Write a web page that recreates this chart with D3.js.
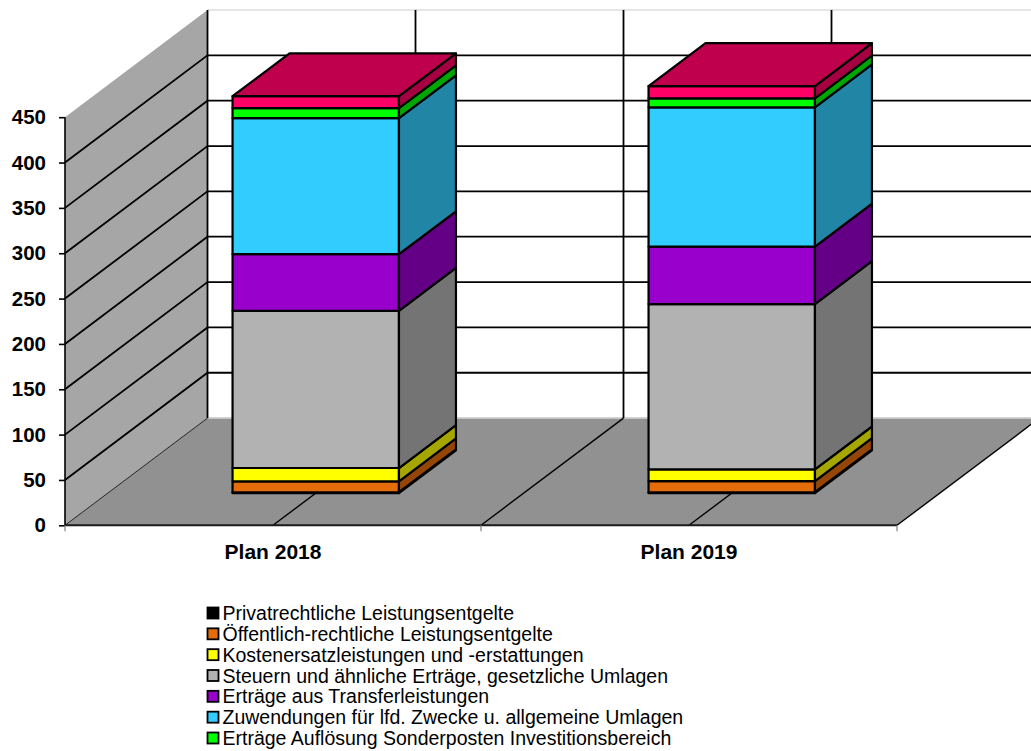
<!DOCTYPE html>
<html>
<head>
<meta charset="utf-8">
<script src="https://cdn.jsdelivr.net/npm/d3@7"></script>
<style>
  html, body { margin: 0; padding: 0; background: #fff; overflow: hidden; }
  svg { display: block; }
  text { font-family: "Liberation Sans", Arial, sans-serif; fill: #000; }
</style>
</head>
<body>
<svg id="chart" width="1031" height="751"></svg>
<script>
(function () {
  'use strict';

  var categories = ['Plan 2018', 'Plan 2019'];
  var seriesKeys = ['privat', 'oeffentlich', 'kosten', 'steuern', 'transfer', 'zuwendungen', 'sonderposten', 'sonstige'];
  var plan2018 = [1, 12, 14.7, 173.3, 62.5, 150, 11, 13.2];
  var plan2019 = [1, 12.3, 12.9, 182.3, 63.4, 153.5, 9.9, 13.6];
  var seriesColors = ['#000000', '#e46c0a', '#ffff00', '#b2b2b2', '#9900cc', '#33ccff', '#00ff00', '#ff0066'];
  // the eighth legend row is cut off by the bottom of the picture
  var legendLabels = [
    'Privatrechtliche Leistungsentgelte',
    'Öffentlich-rechtliche Leistungsentgelte',
    'Kostenersatzleistungen und -erstattungen',
    'Steuern und ähnliche Erträge, gesetzliche Umlagen',
    'Erträge aus Transferleistungen',
    'Zuwendungen für lfd. Zwecke u. allgemeine Umlagen',
    'Erträge Auflösung Sonderposten Investitionsbereich'
  ];
  var yTicks = [0, 50, 100, 150, 200, 250, 300, 350, 400, 450];

  var svg = d3.select('#chart');

  var x = d3.scaleBand().domain(categories).range([65, 897]);
  var y = d3.scaleLinear().domain([0, 450]).range([525.3, 117.2]);
  var depthX = d3.scaleLinear().domain([0, 1]).range([0, 142.5]);
  var depthY = d3.scaleLinear().domain([0, 1]).range([0, -107.2]);

  // projects a point of the front plane back into the chart depth
  function project(px, value, depth) {
    return [px + depthX(depth), y(value) + depthY(depth)];
  }

  function poly(points) {
    return 'M' + points.map(function (p) { return p.join(','); }).join('L') + 'Z';
  }

  function shade(color, k) {
    var c = d3.rgb(color);
    return d3.rgb(c.r * k, c.g * k, c.b * k).formatHex();
  }

  var left = x.range()[0];
  var right = x.range()[1];
  var step = x.step();
  var yMax = y.domain()[1];

  // wall and floor
  svg.append('path')
    .attr('d', poly([project(left, 0, 0), project(left, yMax, 0), project(left, yMax, 1), project(left, 0, 1)]))
    .attr('fill', '#a6a6a6');
  svg.append('path')
    .attr('d', poly([project(left, 0, 0), project(left, 0, 1), project(right, 0, 1), project(right, 0, 0)]))
    .attr('fill', '#919191');

  var grid = svg.append('g').attr('fill', 'none').attr('stroke', '#000').attr('stroke-width', 1.8);

  // faint upper and floor edges of the back plane
  grid.append('path')
    .attr('d', d3.line()([project(left, yMax, 1), project(right, yMax, 1)]))
    .attr('stroke', '#e6e6e6');
  grid.append('path')
    .attr('d', d3.line()([project(left, 0, 1), project(right, 0, 1)]))
    .attr('stroke', '#c4c4c4');

  // horizontal gridlines, wall and back plane
  yTicks.slice(1, -1).forEach(function (t) {
    grid.append('path').attr('d', d3.line()([project(left, t, 0), project(left, t, 1), project(right, t, 1)]));
  });

  // vertical gridlines on the back plane and their floor lines
  d3.range(left, right + 1, step / 2).forEach(function (px) {
    grid.append('path').attr('d', d3.line()([project(px, 0, 1), project(px, yMax, 1)]));
    grid.append('path')
      .attr('stroke-width', px === left ? 0.8 : 1.4)
      .attr('d', d3.line()([project(px, 0, 0), project(px, 0, 1)]));
  });

  grid.append('path').attr('d', d3.line()([project(left, 0, 0), project(right, 0, 0)])).attr('stroke-width', 2).attr('stroke', '#1a1a1a');

  // bars
  var rows = categories.map(function (c, i) {
    var row = { category: c };
    var values = i === 0 ? plan2018 : plan2019;
    seriesKeys.forEach(function (k, j) { row[k] = values[j]; });
    return row;
  });
  var stacked = d3.stack().keys(seriesKeys)(rows);

  var barWidth = x.bandwidth() / 2.5;
  var depthFront = 0.3;
  var depthBack = 0.7;
  var bars = svg.append('g').attr('stroke', '#000').attr('stroke-width', 2.2).attr('stroke-linejoin', 'round');

  categories.forEach(function (c, ci) {
    var x0 = x(c) + x.bandwidth() / 2 - barWidth / 2;
    var x1 = x0 + barWidth;
    stacked.forEach(function (layer, si) {
      var v0 = layer[ci][0];
      var v1 = layer[ci][1];
      var color = seriesColors[si];
      bars.append('path')
        .attr('fill', color)
        .attr('d', poly([project(x0, v0, depthFront), project(x1, v0, depthFront), project(x1, v1, depthFront), project(x0, v1, depthFront)]));
      bars.append('path')
        .attr('fill', shade(color, 0.65))
        .attr('d', poly([project(x1, v0, depthFront), project(x1, v0, depthBack), project(x1, v1, depthBack), project(x1, v1, depthFront)]));
      if (si === stacked.length - 1) {
        bars.append('path')
          .attr('fill', shade(color, 0.75))
          .attr('d', poly([project(x0, v1, depthFront), project(x1, v1, depthFront), project(x1, v1, depthBack), project(x0, v1, depthBack)]));
      }
    });
  });

  // axes
  var yAxis = svg.append('g')
    .attr('transform', 'translate(' + left + ',0)')
    .call(d3.axisLeft(y).tickValues(yTicks).tickSize(6).tickPadding(13).tickFormat(d3.format('d')));
  yAxis.selectAll('path, line').attr('stroke', '#000').attr('stroke-width', 1.6);
  yAxis.select('.domain').attr('d', d3.line()([[0, y(0)], [0, y(yMax)]]));
  yAxis.selectAll('text')
    .attr('font-size', 20.5)
    .attr('font-weight', 'bold')
    .attr('font-family', '"Liberation Sans", Arial, sans-serif');

  var xAxis = svg.append('g')
    .attr('transform', 'translate(0,' + y(0) + ')')
    .call(d3.axisBottom(x).tickSize(0).tickPadding(0));
  xAxis.select('.domain').remove();
  xAxis.selectAll('text')
    .attr('y', 33.5)
    .attr('dy', 0)
    .attr('font-size', 21)
    .attr('font-weight', 'bold')
    .attr('font-family', '"Liberation Sans", Arial, sans-serif');
  d3.range(left, right + 1, step).forEach(function (px) {
    xAxis.append('line')
      .attr('x1', px).attr('x2', px).attr('y1', 0).attr('y2', 6)
      .attr('stroke', '#808080').attr('stroke-width', 1.2);
  });

  // legend
  var legendY = d3.scalePoint().domain(legendLabels).range([613, 738]);
  var legend = svg.append('g')
    .selectAll('g')
    .data(legendLabels)
    .join('g')
    .attr('transform', function (d) { return 'translate(0,' + legendY(d) + ')'; });
  legend.append('rect')
    .attr('x', 207.5).attr('y', -5.5)
    .attr('width', 11).attr('height', 11)
    .attr('stroke', '#000').attr('stroke-width', 1.8)
    .attr('fill', function (d, i) { return seriesColors[i]; });
  legend.append('text')
    .attr('x', 222.5)
    .attr('y', 7)
    .attr('font-size', 19.5)
    .text(function (d) { return d; });
}());
</script>
</body>
</html>
